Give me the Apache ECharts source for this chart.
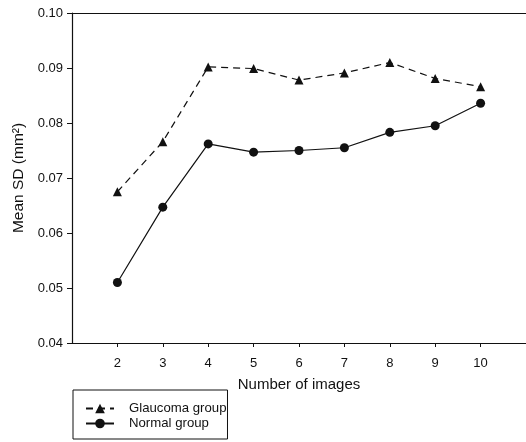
<!DOCTYPE html>
<html>
<head>
<meta charset="utf-8">
<script src="https://cdn.jsdelivr.net/npm/echarts@6/dist/echarts.min.js"></script>
<style>
  html, body { margin: 0; padding: 0; background: #fff; }
  #chart { width: 526px; height: 442px; }
</style>
</head>
<body>
<div id="chart"></div>
<script>
// Number of images per measurement
const imageCounts = [2, 3, 4, 5, 6, 7, 8, 9, 10];
// Mean SD (mm²) for each group
const glaucomaGroup = [0.0675, 0.0766, 0.0902, 0.0899, 0.0878, 0.0891, 0.0910, 0.0881, 0.0866];
const normalGroup   = [0.0510, 0.0647, 0.0762, 0.0747, 0.0750, 0.0755, 0.0783, 0.0795, 0.0836];
// Axis ticks
const xTicks = [2, 3, 4, 5, 6, 7, 8, 9, 10];
const yTicks = [0.04, 0.05, 0.06, 0.07, 0.08, 0.09, 0.10];

const ink = '#111';
const font = 'Liberation Sans, Arial, sans-serif';

const chart = echarts.init(document.getElementById('chart'), null, { renderer: 'canvas' });

chart.setOption({
  animation: false,
  backgroundColor: '#fff',
  grid: { left: 72, top: 13, right: 0, bottom: 99, containLabel: false },
  legend: {
    orient: 'vertical',
    left: 73,
    top: 390,
    padding: [12, 1, 9, 12],
    itemGap: 2,
    itemWidth: 28,
    itemHeight: 12,
    borderColor: ink,
    borderWidth: 1,
    borderRadius: 0,
    textStyle: { fontFamily: font, fontSize: 13.2, lineHeight: 12, color: ink, padding: [0, 0, 0, 10] },
    data: ['Glaucoma group', 'Normal group']
  },
  xAxis: [{
    type: 'value',
    min: 1,
    max: 11,
    interval: 1,
    name: 'Number of images',
    nameLocation: 'middle',
    nameGap: 34,
    nameTextStyle: { fontFamily: font, fontSize: 15, color: ink },
    axisLine: { show: true, lineStyle: { color: ink, width: 1.2 } },
    axisTick: { show: true, inside: false, length: 4, lineStyle: { color: ink }, customValues: xTicks },
    axisLabel: { fontFamily: font, fontSize: 13, color: ink, margin: 14, customValues: xTicks },
    splitLine: { show: false }
  }, {
    type: 'value',
    position: 'top',
    min: 1,
    max: 11,
    axisLine: { show: true, onZero: false, lineStyle: { color: ink, width: 1.2 } },
    axisTick: { show: false },
    axisLabel: { show: false },
    splitLine: { show: false }
  }],
  yAxis: {
    type: 'value',
    min: 0.04,
    max: 0.10,
    interval: 0.01,
    name: 'Mean SD (mm²)',
    nameLocation: 'middle',
    nameRotate: 90,
    nameGap: 41,
    nameTextStyle: { fontFamily: font, fontSize: 15.5, color: ink },
    axisLine: { show: true, lineStyle: { color: ink, width: 1.2 } },
    axisTick: { show: true, inside: false, length: 5, lineStyle: { color: ink }, customValues: yTicks },
    axisLabel: {
      fontFamily: font, fontSize: 13, color: ink, margin: 9,
      customValues: yTicks,
      formatter: v => v.toFixed(2)
    },
    splitLine: { show: false }
  },
  series: [{
    name: 'Glaucoma group',
    type: 'line',
    data: imageCounts.map((x, i) => [x, glaucomaGroup[i]]),
    symbol: 'triangle',
    symbolSize: 9,
    itemStyle: { color: ink },
    lineStyle: { color: ink, width: 1.2, type: [7, 5] },
    z: 3
  }, {
    name: 'Normal group',
    type: 'line',
    data: imageCounts.map((x, i) => [x, normalGroup[i]]),
    symbol: 'circle',
    symbolSize: 9,
    itemStyle: { color: ink },
    lineStyle: { color: ink, width: 1.2 },
    z: 3
  }]
});
</script>
</body>
</html>
